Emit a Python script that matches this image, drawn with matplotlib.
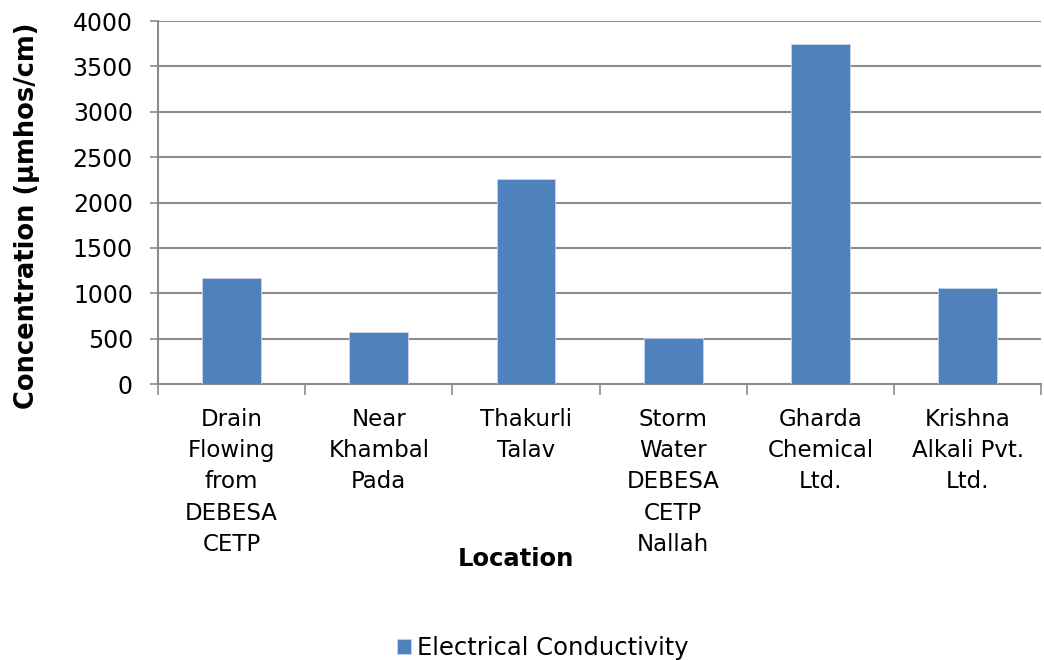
import numpy as np
import matplotlib.pyplot as plt

# Data
locations = ["Drain\nFlowing\nfrom\nDEBESA\nCETP", "Near\nKhambal\nPada", "Thakurli\nTalav",
             "Storm\nWater\nDEBESA\nCETP\nNallah", "Gharda\nChemical\nLtd.", "Krishna\nAlkali Pvt.\nLtd."]
conductivity = [1165, 569, 2261, 507, 3751, 1059]
y_ticks = [0, 500, 1000, 1500, 2000, 2500, 3000, 3500, 4000]

bar_color = "#4F81BD"
grid_color = "#8C8C8C"

plt.rcParams['font.family'] = ['DejaVu Sans']

fig = plt.figure(figsize=(10.44, 6.6), dpi=100)
ax = fig.add_axes([0.1513, 0.418, 0.846, 0.550])

x = np.arange(len(locations))
ax.bar(x, conductivity, width=0.4, color=bar_color, edgecolor="#C6D5EA", linewidth=0.6,
       label="Electrical Conductivity", zorder=3)

ax.set_xlim(-0.5, len(locations) - 0.5)
ax.set_ylim(0, 4000)
ax.set_yticks(y_ticks)
ax.set_yticklabels([str(v) for v in y_ticks], fontsize=17)
ax.yaxis.grid(True, color=grid_color, linewidth=1.5, zorder=0)

# category boundaries carry the tick marks, centers carry the labels
ax.set_xticks(np.arange(-0.5, len(locations), 1.0))
ax.set_xticklabels([])
ax.set_xticks(x, minor=True)
ax.set_xticklabels(locations, minor=True, fontsize=16.5, linespacing=1.46, va="top")
ax.tick_params(axis="x", which="major", length=8, color=grid_color, width=1.2)
ax.tick_params(axis="x", which="minor", length=0, pad=17)
ax.tick_params(axis="y", length=6, color=grid_color, width=1.2, pad=12)

for side in ["top", "right"]:
    ax.spines[side].set_visible(False)
for side in ["left", "bottom"]:
    ax.spines[side].set_color(grid_color)
    ax.spines[side].set_linewidth(1.5)

ax.set_ylabel("Concentration (µmhos/cm)", fontsize=18.5, fontweight="bold")
ax.yaxis.set_label_coords(-0.133, 0.463)
fig.text(0.494, 0.153, "Location", fontsize=17.5, fontweight="bold", ha="center", va="center")

leg = fig.legend(loc="center", bbox_to_anchor=(0.52, 0.018), frameon=False, fontsize=17.5,
                 handlelength=0.55, handleheight=0.55, handletextpad=0.25)

fig.savefig("out.png", dpi=100)
